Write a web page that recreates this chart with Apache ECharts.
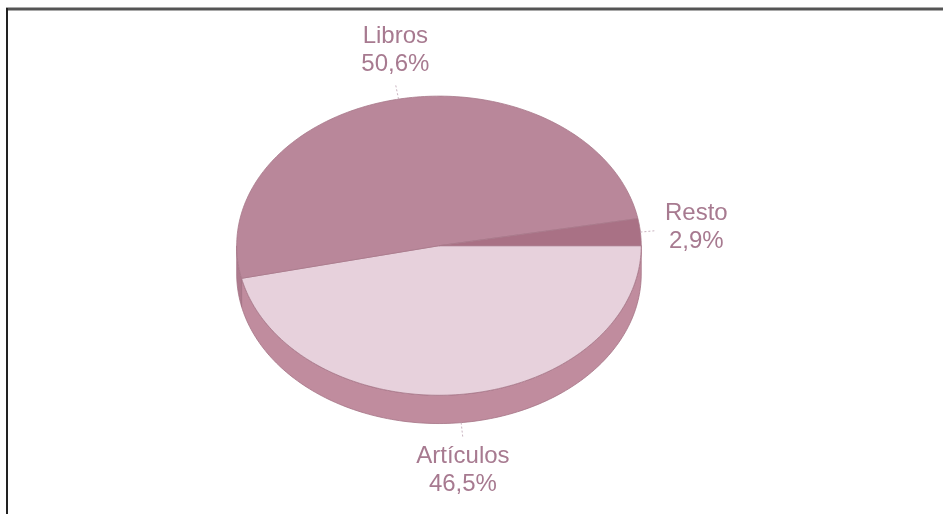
<!DOCTYPE html>
<html>
<head>
<meta charset="utf-8">
<script src="https://cdn.jsdelivr.net/npm/echarts@6/dist/echarts.min.js"></script>
<style>
  html, body { margin: 0; padding: 0; background: #fff; }
  #chart { width: 943px; height: 514px; }
</style>
</head>
<body>
<div id="chart"></div>
<script>
// slices, clockwise from 3 o'clock
var categories = ['Artículos', 'Libros', 'Resto'];
var values = [46.5, 50.6, 2.9];
var pctLabels = ['46,5%', '50,6%', '2,9%'];

var topColors = ['#e7d1dc', '#b9879a', '#a97185'];
var sideColors = ['#c08c9e', '#ad7a8d', '#a36c80'];
var labelColor = '#a77a90';

var total = values.reduce(function (a, b) { return a + b; }, 0);

function renderSlice (params, api) {
  var i = params.dataIndex;
  var W = api.getWidth(), H = api.getHeight();
  var cx = W * 0.4655, cy = H * 0.478;
  var rx = W * 0.2145, ry = H * 0.291, depth = H * 0.055;

  var before = 0;
  for (var k = 0; k < i; k++) before += values[k];
  var a1 = before / total * Math.PI * 2;
  var a2 = a1 + api.value(0) / total * Math.PI * 2;

  function arc (s, e, dy) {
    var pts = [];
    var n = Math.max(2, Math.ceil((e - s) / 0.02));
    for (var j = 0; j <= n; j++) {
      var t = s + (e - s) * j / n;
      pts.push([cx + rx * Math.cos(t), cy + dy + ry * Math.sin(t)]);
    }
    return pts;
  }

  var children = [];

  // visible side wall (front half only)
  var s1 = Math.max(a1, 0), s2 = Math.min(a2, Math.PI);
  if (s2 > s1) {
    var side = arc(s1, s2, 0).concat(arc(s1, s2, depth).reverse());
    children.push({
      type: 'polygon', z2: 1,
      shape: { points: side },
      style: { fill: sideColors[i], stroke: '#a57385', lineWidth: 0.8 }
    });
  }

  // top face
  var top = [[cx, cy]].concat(arc(a1, a2, 0));
  children.push({
    type: 'polygon', z2: 5,
    shape: { points: top },
    style: { fill: topColors[i], stroke: '#a8788a', lineWidth: 0.8 }
  });

  // label with short leader line
  var m = (a1 + a2) / 2;
  var c = Math.cos(m), s = Math.sin(m);
  var ax = cx + rx * c, ay = cy + ry * s + (s > 0 ? depth : 0);
  var len = 16;
  var bx = ax + c * len, by = ay + s * len;
  children.push({
    type: 'line', z2: 10,
    shape: { x1: ax, y1: ay, x2: bx, y2: by },
    style: { stroke: '#c9b3bf', lineWidth: 1, lineDash: [2, 2] }
  });
  var vAlign = 'middle', tx = bx, ty = by;
  if (Math.abs(c) > 0.7) {
    tx = bx + (c > 0 ? 40 : -40);
    ty = by - 3;
  } else {
    vAlign = s > 0 ? 'top' : 'bottom';
    ty = by + (s > 0 ? 4 : -5);
  }
  children.push({
    type: 'text', z2: 10,
    x: tx, y: ty,
    style: {
      text: categories[i] + '\n' + pctLabels[i],
      fill: labelColor,
      font: '24px "Liberation Sans", Arial, sans-serif',
      lineHeight: 28,
      align: 'center',
      verticalAlign: vAlign
    }
  });

  return { type: 'group', children: children };
}

var chart = echarts.init(document.getElementById('chart'));
chart.setOption({
  backgroundColor: '#fff',
  animation: false,
  graphic: [
    { type: 'line', shape: { x1: 6, y1: 9, x2: 943, y2: 9 },
      style: { stroke: '#555', lineWidth: 3 } },
    { type: 'line', shape: { x1: 7, y1: 8, x2: 7, y2: 514 },
      style: { stroke: '#222', lineWidth: 2 } }
  ],
  series: [{
    type: 'custom',
    coordinateSystem: 'none',
    renderItem: renderSlice,
    data: values.map(function (v, i) { return { name: categories[i], value: [v] }; })
  }]
});
</script>
</body>
</html>
